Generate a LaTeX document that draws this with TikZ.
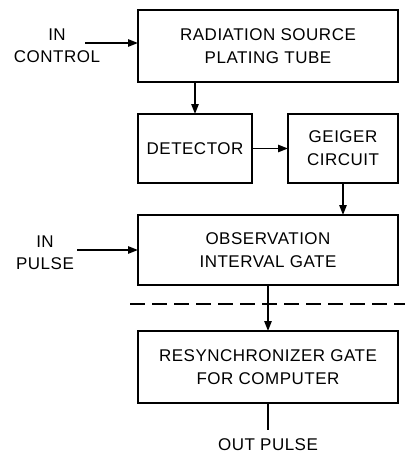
\documentclass[tikz,border=0pt]{standalone}
\usepackage{fontspec}
\setmainfont[LetterSpace=3]{Liberation Sans}
\usetikzlibrary{positioning, arrows.meta, calc}
\tikzset{
  box/.style={draw, line width=2.4pt, align=center, font=\fontsize{14.5}{19.5}\selectfont, inner sep=4pt, outer sep=0pt},
  lbl/.style={align=center, font=\fontsize{14.5}{19}\selectfont, inner sep=2pt},
  arr/.style={-{Triangle[length=3mm, width=2.2mm]}, line width=1.5pt},
  wire/.style={line width=1.5pt},
  sep/.style={line width=1.3pt, dash pattern=on 0.45cm off 0.21cm}
}

\begin{document}
\begin{tikzpicture}
  \useasboundingbox (0,0) rectangle (12.15,-13.68);

  \node[box, anchor=north west, minimum width=7.8cm, minimum height=2.16cm] (src) at (4.14,-0.30) {RADIATION SOURCE\\PLATING TUBE};
  \node[box, below right=0.96cm and 0cm of src.south west, minimum width=3.42cm, minimum height=2.07cm] (det) {DETECTOR};
  \node[box, right=1.08cm of det, minimum width=3.3cm, minimum height=2.07cm] (gc) {GEIGER\\CIRCUIT};
  \node[box, below right=0.96cm and 0cm of det.south west, minimum width=7.8cm, minimum height=2.1cm] (obs) {OBSERVATION\\INTERVAL GATE};
  \node[box, below right=1.38cm and 0cm of obs.south west, minimum width=7.8cm, minimum height=2.16cm] (rs) {RESYNCHRONIZER GATE\\FOR COMPUTER};

  % inputs and output
  \node[lbl] (inctl) at ([xshift=-2.43cm]src.west) {IN\\CONTROL};
  \node[lbl] (inpls) at ([xshift=-2.79cm, yshift=-0.09cm]obs.west) {IN\\PULSE};
  \node[font=\fontsize{14.5}{19}\selectfont, below=0.81cm of rs, inner sep=7pt, outer sep=0pt] (outp) {OUT PULSE};
  \coordinate (ctl) at ([xshift=-1.59cm, yshift=0.09cm]src.west);
  \coordinate (pls) at ([xshift=-1.83cm]obs.west);

  \draw[arr] (ctl) -- (ctl -| src.west);
  \draw[arr] (det.north |- src.south) -- (det.north);
  \draw[arr] (det.east) -- (gc.west);
  \draw[arr] (gc.south) -- (gc.south |- obs.north);
  \draw[arr] (pls) -- (obs.west);
  \draw[arr] (obs.south) -- (rs.north);
  \draw[wire] (rs.south) -- (outp.north);

  % dashed boundary
  \coordinate (dl) at ([xshift=-0.24cm, yshift=-0.57cm]obs.south west);
  \draw[sep] (dl) -- (dl -| 12.15,0);
\end{tikzpicture}
\end{document}
